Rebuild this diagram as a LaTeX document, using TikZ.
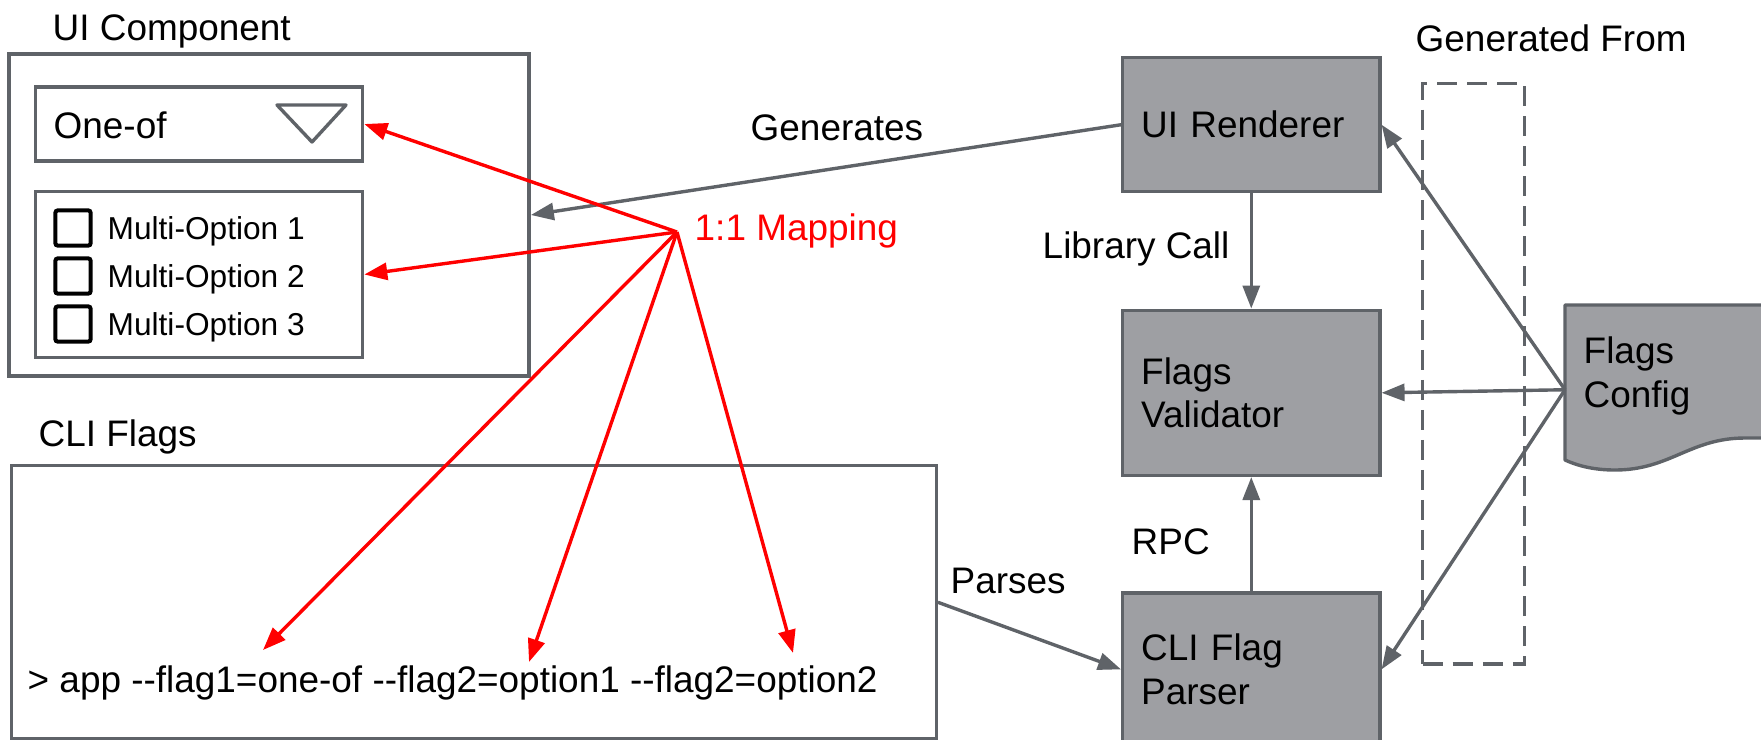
\documentclass[tikz,border=0pt]{standalone}
\usepackage{fontspec}
\setmainfont{Liberation Sans}
\usetikzlibrary{positioning, arrows.meta}

\definecolor{linegray}{HTML}{5F6368}
\definecolor{boxgray}{RGB}{158,159,163}
\newcommand{\dd}{-\kern0pt-}

\tikzset{
    frame/.style={draw=linegray, line width=0.034cm},
    block/.style={draw=linegray, fill=boxgray, line width=0.034cm, text width=2.2cm, inner xsep=0.185cm, align=left},
    conn/.style={draw=linegray, line width=0.034cm, -{Triangle[length=0.23cm, width=0.17cm]}},
    mapto/.style={draw=red, line width=0.034cm, -{Triangle[length=0.23cm, width=0.17cm]}},
    lbl/.style={inner sep=0pt, anchor=base west},
    tickbox/.style={draw=black, line width=0.04cm, rounded corners=0.02cm, minimum size=0.35cm, inner sep=0pt}
}

\begin{document}
\begin{tikzpicture}[x=0.01cm, y=-0.01cm, font=\fontsize{10.5}{12.5}\selectfont]
    \useasboundingbox (0,0) rectangle (1761,739);

    \node (uibox) [frame, minimum width=5.2cm, minimum height=3.22cm] at (269,215) {};
    \node (uilbl) [lbl] at (52,40) {UI Component};
    \node (oneof) [frame, minimum width=3.27cm, minimum height=0.74cm] at (199,124) {};
    \node (oneoflbl) [lbl] at (53,138) {One-of};
    \draw [linegray, line width=0.034cm, line join=round] (277,105) -- (346,105) -- (312,142) -- cycle;
    \node (multi) [frame, minimum width=3.27cm, minimum height=1.66cm, below=0.27cm of oneof] {};
    \foreach \y/\n in {228/1, 276/2, 324/3} {
        \node (tick\n) [tickbox] at (73,\y) {};
        \node (opt\n) [lbl, font=\fontsize{9}{11}\selectfont] at (107,\y+11) {Multi-Option \n};
    }

    \node (cli) [frame, minimum width=9.24cm, minimum height=2.73cm, anchor=north west] at (10,464) {};
    \node (clilbl) [lbl] at (38,446) {CLI Flags};
    \node (cmd) [lbl] at (27,692) {> app \dd flag1=one-of \dd flag2=option1 \dd flag2=option2};

    \node (ren) [block, minimum height=1.34cm, anchor=north west] at (1121,56) {UI Renderer};
    \node (val) [block, minimum height=1.65cm, below=1.15cm of ren] {Flags\\Validator};
    \node (par) [block, minimum height=1.53cm, below=1.14cm of val] {CLI Flag\\Parser};

    \node (gen) [draw=linegray, line width=0.034cm, dash pattern=on 0.2cm off 0.1cm, minimum width=1.02cm, minimum height=5.8cm, anchor=north west] at (1421,82) {};
    \node (genlbl) [lbl] at (1415,51) {Generated From};

    % config document
    \node (cfg) [minimum width=2.3cm, minimum height=1.68cm, inner sep=0pt, anchor=north west] at (1565,305) {};
    \filldraw [draw=linegray, fill=boxgray, line width=0.034cm, line join=round] (cfg.north west) -- (1795,305) -- (1795,438) -- (1745,438)
        .. controls (1690,438) and (1670,470) .. (1615,470) .. controls (1592,470) and (1576,465) .. (1565,460) -- cycle;
    \node (cfglbl1) [lbl] at (1583,363) {Flags};
    \node (cfglbl2) [lbl] at (1583,407) {Config};

    \draw [conn] (ren.west) -- (uibox.east);
    \node (genslbl) [lbl] at (750,140) {Generates};
    \draw [conn] (ren.south) -- (val.north);
    \node (liblbl) [lbl] at (1042,258) {Library Call};
    \draw [conn] (par.north) -- (val.south);
    \node (rpclbl) [lbl] at (1131,554) {RPC};
    \draw [conn] (cli.east) -- (par.west);
    \node (parlbl) [lbl] at (950,593) {Parses};
    \draw [conn] (cfg.west) -- (ren.east);
    \draw [conn] (cfg.west) -- (val.east);
    \draw [conn] (cfg.west) -- (par.east);

    \coordinate (hub) at (677,232);
    \coordinate (f1) at (263,650);
    \coordinate (f2) at (529,662);
    \coordinate (f3) at (793,653);
    \node (maplbl) [lbl, text=red] at (694,240) {1:1 Mapping};
    \draw [mapto] (hub) -- (oneof.east);
    \draw [mapto] (hub) -- (multi.east);
    \foreach \t in {f1, f2, f3}
        \draw [mapto] (hub) -- (\t);
\end{tikzpicture}
\end{document}
